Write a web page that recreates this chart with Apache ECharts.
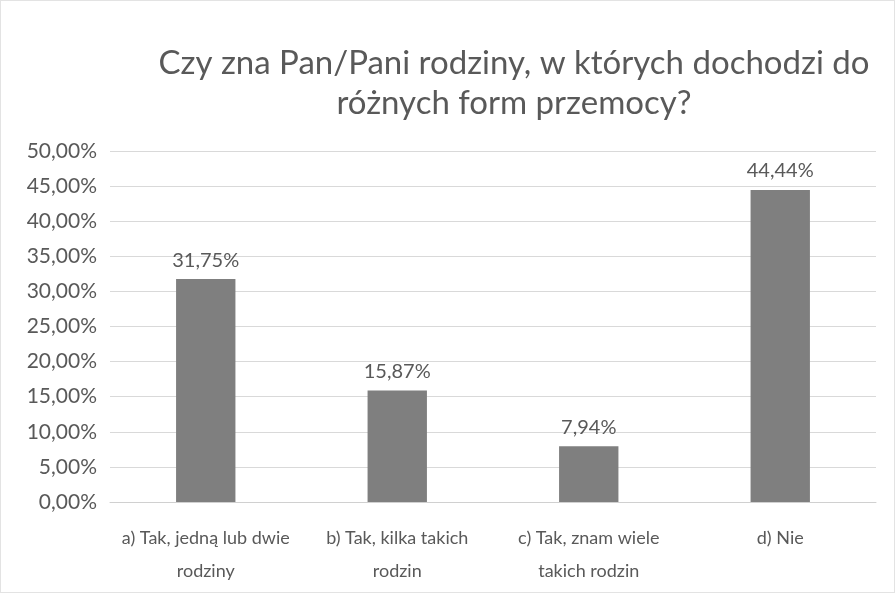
<!DOCTYPE html>
<html>
<head>
<meta charset="utf-8">
<script src="https://cdn.jsdelivr.net/npm/echarts@6/dist/echarts.min.js"></script>
<style>
  html, body { margin: 0; padding: 0; background: #fff; }
  #chart { width: 895px; height: 593px; box-sizing: border-box; border: 1px solid #e3e3e3; }
</style>
</head>
<body>
<div id="chart"></div>
<script>
// dane z wykresu
const categories = [
  'a) Tak, jedną lub dwie\nrodziny',
  'b) Tak, kilka takich\nrodzin',
  'c) Tak, znam wiele\ntakich rodzin',
  'd) Nie'
];
const values = [31.75, 15.87, 7.94, 44.44];
const titleText = 'Czy zna Pan/Pani rodziny, w których dochodzi do\nróżnych form przemocy?';

const fmt = v => v.toFixed(2).replace('.', ',') + '%';

const chart = echarts.init(document.getElementById('chart'));

const option = {
  backgroundColor: '#fff',
  textStyle: { fontFamily: 'Lato' },
  title: {
    text: titleText,
    left: 508,
    top: 37,
    textAlign: 'center',
    textStyle: {
      fontFamily: 'Lato',
      fontSize: 33,
      fontWeight: 'normal',
      color: '#595959',
      lineHeight: 40
    }
  },
  grid: { left: 109, right: 18, top: 150, bottom: 90 },
  xAxis: {
    type: 'category',
    data: categories,
    axisLine: { lineStyle: { color: '#d0d0d0' } },
    axisTick: { show: false },
    axisLabel: {
      interval: 0,
      color: '#595959',
      fontSize: 18,
      lineHeight: 33,
      margin: 20
    }
  },
  yAxis: {
    type: 'value',
    min: 0,
    max: 50,
    interval: 5,
    axisLine: { show: false },
    axisTick: { show: false },
    splitLine: { lineStyle: { color: '#d9d9d9' } },
    axisLabel: {
      color: '#595959',
      fontSize: 21,
      margin: 13,
      formatter: v => fmt(v)
    }
  },
  series: [{
    type: 'bar',
    data: values,
    barWidth: '31%',
    itemStyle: { color: '#7f7f7f' },
    label: {
      show: true,
      position: 'top',
      distance: 9,
      color: '#595959',
      fontSize: 20,
      formatter: p => fmt(p.value)
    }
  }]
};

chart.setOption(option);
window.addEventListener('resize', chart.resize);
</script>
</body>
</html>
